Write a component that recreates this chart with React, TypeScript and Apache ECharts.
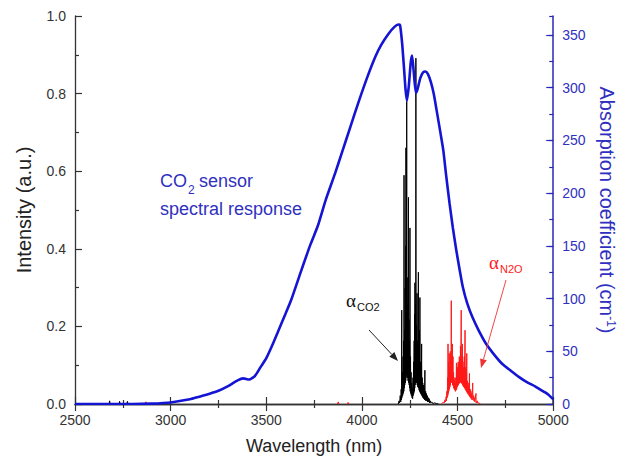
import React, { useEffect, useRef } from "react";
import * as echarts from "echarts";

// ---------- data ----------
const X_MIN = 2500;
const X_MAX = 5000;
const X_INTERVAL = 500;
const LEFT_MAX = 1.0;
const LEFT_INTERVAL = 0.2;
const RIGHT_MAX = 368;
const RIGHT_INTERVAL = 50;

// CO2 sensor spectral response (left axis, intensity a.u.)
const SENSOR_WL = [2500, 2600, 2700, 2800, 2900, 3000, 3100, 3150, 3200, 3250, 3300, 3350, 3380, 3410, 3440, 3470, 3500, 3530, 3560, 3600, 3630, 3680, 3730, 3770, 3810, 3860, 3900, 3940, 3980, 4030, 4070, 4100, 4140, 4170, 4190, 4199, 4210, 4220, 4228, 4235, 4245, 4255, 4262, 4270, 4282, 4290, 4305, 4320, 4332, 4345, 4360, 4375, 4390, 4410, 4425, 4440, 4458, 4475, 4493, 4510, 4527, 4550, 4579, 4610, 4648, 4690, 4734, 4780, 4820, 4860, 4907, 4950, 4975, 5000];
const SENSOR_I = [0, 0, 0, 0, 0.001, 0.004, 0.012, 0.019, 0.026, 0.034, 0.046, 0.061, 0.066, 0.063, 0.072, 0.095, 0.118, 0.15, 0.185, 0.232, 0.268, 0.34, 0.41, 0.46, 0.525, 0.595, 0.655, 0.715, 0.775, 0.845, 0.895, 0.925, 0.955, 0.972, 0.978, 0.977, 0.93, 0.865, 0.81, 0.782, 0.82, 0.88, 0.898, 0.86, 0.802, 0.81, 0.84, 0.855, 0.857, 0.85, 0.83, 0.8, 0.758, 0.7, 0.655, 0.59, 0.517, 0.455, 0.397, 0.348, 0.302, 0.26, 0.222, 0.19, 0.156, 0.128, 0.103, 0.085, 0.07, 0.057, 0.045, 0.032, 0.024, 0.012];

// CO2 absorption coefficient (right axis, cm^-1); null = gap
const CO2_WL = [2678, 2681, 2684, null, 2730, 2733, 2736, null, 2771, 2774, 2777, null,
  4190, 4194, 4197, 4200, 4203, 4205, 4207, 4208, 4209, 4211, 4213, 4215, 4216, 4218, 4219, 4220, 4221, 4223, 4224, 4226, 4227, 4228, 4229, 4230, 4231, 4232, 4233, 4234, 4235, 4237, 4238, 4240, 4241, 4243, 4244, 4246, 4247, 4249, 4250, 4251, 4252, 4254, 4255, 4257, 4258, 4260, 4262, 4264, 4265, 4267, 4268, 4270, 4271, 4273, 4274, 4275, 4276, 4277, 4278, 4280, 4281, 4282, 4283, 4285, 4286, 4288, 4289, 4291, 4292, 4295, 4296, 4298, 4299, 4301, 4302, 4303, 4304, 4306, 4307, 4309, 4310, 4312, 4313, 4315, 4316, 4318, 4319, 4322, 4323, 4326, 4327, 4329, 4330, 4333, 4334, 4337, 4338, 4342, 4343, 4347, 4348, 4352, 4353, 4358, 4360, 4365, 4370, 4380, 4390, 4400];
const CO2_ABS = [0, 3, 0, null, 0, 2.5, 0, null, 0, 2.5, 0, null,
  0, 3, 1, 8, 2, 14, 4, 89, 6, 30, 8, 45, 10, 60, 12, 217, 15, 70, 18, 110, 20, 150, 22, 243, 25, 130, 28, 287, 30, 95, 25, 120, 22, 196, 20, 80, 18, 60, 15, 167, 12, 45, 10, 30, 8, 20, 6, 15, 5, 25, 8, 40, 10, 60, 12, 85, 15, 115, 18, 95, 20, 328, 22, 75, 20, 105, 18, 60, 16, 125, 15, 50, 13, 70, 12, 101, 11, 40, 10, 35, 9, 57, 8, 25, 7, 20, 6, 18, 5, 15, 4, 32, 4, 12, 3, 10, 3, 8, 2, 6, 2, 5, 1, 3, 1, 2, 0.5, 1, 0.5, 0];

// N2O absorption coefficient (right axis, cm^-1); null = gap
const N2O_WL = [2866, 2870, 2874, 2878, null, 3872, 3876, 3880, null, 3924, 3928, 3932, null,
  4415, 4422, 4426, 4430, 4434, 4437, 4440, 4442, 4444, 4446, 4448, 4449, 4450, 4451, 4453, 4454, 4456, 4457, 4459, 4460, 4462, 4463, 4465, 4466, 4467, 4468, 4470, 4471, 4473, 4474, 4476, 4477, 4479, 4480, 4482, 4483, 4485, 4486, 4488, 4489, 4491, 4492, 4494, 4495, 4497, 4498, 4500, 4501, 4503, 4504, 4506, 4507, 4509, 4510, 4512, 4513, 4515, 4516, 4519, 4520, 4522, 4523, 4525, 4526, 4528, 4529, 4531, 4532, 4535, 4536, 4539, 4540, 4542, 4543, 4545, 4546, 4548, 4549, 4551, 4552, 4555, 4556, 4559, 4560, 4562, 4563, 4566, 4567, 4570, 4571, 4574, 4575, 4579, 4580, 4584, 4585, 4589, 4590, 4596, 4597, 4603, 4605, 4612, 4620];
const N2O_ABS = [0, 2, 1.5, 0, null, 0, 2, 0, null, 0, 1.5, 0, null,
  0, 1, 2, 1, 4, 2, 7, 3, 12, 6, 25, 8, 57, 10, 40, 12, 48, 14, 35, 16, 50, 18, 45, 20, 98, 22, 40, 20, 57, 18, 45, 17, 30, 15, 25, 14, 22, 13, 20, 12, 25, 13, 39, 14, 30, 16, 35, 17, 40, 18, 38, 19, 45, 20, 42, 20, 55, 21, 89, 20, 45, 19, 57, 18, 40, 17, 35, 16, 45, 15, 70, 14, 35, 13, 30, 12, 48, 11, 22, 10, 20, 9, 18, 8, 29, 7, 14, 6, 12, 5, 10, 4, 20, 4, 8, 3, 6, 2, 10, 1, 3, 1, 1, 0];

const pairs = (xs: (number | null)[], ys: (number | null)[]) =>
  xs.map((x, i) => (x === null || ys[i] === null ? ["-", "-"] : [x, ys[i]]));

const AXIS_GRAY = "#333333";
const BLUE = "#1414d4";
const BLUE_TEXT = "#3030c0";
const RED = "#ff1a1a";
const FONT = "'Liberation Sans', Arial, sans-serif";
const SERIF = "'Liberation Serif', 'Times New Roman', serif";

function arrow(x1: number, y1: number, x2: number, y2: number, color: string, width: number) {
  const ang = Math.atan2(y2 - y1, x2 - x1);
  const L = 9;
  const W = 3.5;
  const bx = x2 - L * Math.cos(ang);
  const by = y2 - L * Math.sin(ang);
  const px = -Math.sin(ang) * W;
  const py = Math.cos(ang) * W;
  return [
    { type: "line", shape: { x1, y1, x2: bx, y2: by }, style: { stroke: color, lineWidth: width }, z: 100 },
    {
      type: "polygon",
      shape: { points: [[x2, y2], [bx + px, by + py], [bx - px, by - py]] },
      style: { fill: color },
      z: 100,
    },
  ];
}

export default function App() {
  const ref = useRef<HTMLDivElement>(null);
  useEffect(() => {
    if (!ref.current) return;
    const chart = echarts.init(ref.current, undefined, { renderer: "svg" });
    const tickStyle = { color: AXIS_GRAY, width: 1.2 };
    const option: any = {
      animation: false,
      backgroundColor: "#ffffff",
      grid: { left: 75, right: 68, top: 16, bottom: 67 },
      xAxis: [
        {
          type: "value",
          position: "bottom",
          min: X_MIN,
          max: X_MAX,
          interval: X_INTERVAL,
          axisLine: { show: true, lineStyle: { color: AXIS_GRAY, width: 1.3 } },
          axisTick: { show: true, inside: true, length: 7, lineStyle: tickStyle },
          minorTick: { show: true, splitNumber: 2, length: 4, lineStyle: tickStyle },
          splitLine: { show: false },
          minorSplitLine: { show: false },
          axisLabel: { fontSize: 14, color: AXIS_GRAY, fontFamily: FONT, margin: 9, formatter: (v: number) => String(v) },
          name: "Wavelength (nm)",
          nameLocation: "middle",
          nameGap: 33,
          nameTextStyle: { fontSize: 18, color: "#222", fontFamily: FONT },
        },
        {
          type: "value",
          position: "top",
          min: X_MIN,
          max: X_MAX,
          interval: X_INTERVAL,
          axisLine: { show: true, lineStyle: { color: AXIS_GRAY, width: 1.3 } },
          axisTick: { show: true, inside: true, length: 7, lineStyle: tickStyle },
          minorTick: { show: true, splitNumber: 2, length: 4, lineStyle: tickStyle },
          splitLine: { show: false },
          axisLabel: { show: false },
        },
      ],
      yAxis: [
        {
          type: "value",
          position: "left",
          min: 0,
          max: LEFT_MAX,
          interval: LEFT_INTERVAL,
          axisLine: { show: true, lineStyle: { color: AXIS_GRAY, width: 1.3 } },
          axisTick: { show: true, inside: true, length: 7, lineStyle: tickStyle },
          minorTick: { show: true, splitNumber: 2, length: 4, lineStyle: tickStyle },
          splitLine: { show: false },
          minorSplitLine: { show: false },
          axisLabel: {
            fontSize: 14,
            color: AXIS_GRAY,
            fontFamily: FONT,
            margin: 9,
            formatter: (v: number) => v.toFixed(1),
          },
          name: "Intensity (a.u.)",
          nameLocation: "middle",
          nameRotate: 90,
          nameGap: 41,
          nameTextStyle: { fontSize: 20, color: "#222", fontFamily: FONT },
        },
        {
          type: "value",
          position: "right",
          min: 0,
          max: RIGHT_MAX,
          interval: RIGHT_INTERVAL,
          axisLine: { show: true, lineStyle: { color: "#2828b8", width: 1.5 } },
          axisTick: { show: true, inside: true, length: 7, lineStyle: { color: "#2828b8", width: 1.2 } },
          splitLine: { show: false },
          axisLabel: {
            fontSize: 14,
            color: BLUE_TEXT,
            fontFamily: FONT,
            margin: 9,
            showMaxLabel: false,
            formatter: (v: number) => (Math.abs(v % RIGHT_INTERVAL) < 1e-6 ? String(v) : ""),
          },
          name: "Absorption coefficient (cm{sup|-1}{par|)}",
          nameLocation: "middle",
          nameRotate: -90,
          nameGap: 39,
          nameTextStyle: {
            fontSize: 20,
            color: BLUE_TEXT,
            fontFamily: FONT,
            rich: {
              sup: { fontSize: 12, color: BLUE_TEXT, fontFamily: FONT, verticalAlign: "top", padding: [0, 0, 9, 0] },
              par: { fontSize: 20, color: BLUE_TEXT, fontFamily: FONT },
            },
          },
        },
        {
          type: "value",
          position: "right",
          min: 0,
          max: RIGHT_MAX,
          interval: RIGHT_INTERVAL / 2,
          axisLine: { show: false },
          axisTick: { show: true, inside: true, length: 4, lineStyle: { color: "#2828b8", width: 1.2 } },
          splitLine: { show: false },
          axisLabel: { show: false },
        },
      ],
      series: [
        {
          name: "N2O",
          type: "line",
          xAxisIndex: 0,
          yAxisIndex: 1,
          data: pairs(N2O_WL, N2O_ABS),
          showSymbol: false,
          symbol: "none",
          connectNulls: false,
          lineStyle: { color: RED, width: 1 },
          z: 2,
        },
        {
          name: "CO2",
          type: "line",
          xAxisIndex: 0,
          yAxisIndex: 1,
          data: pairs(CO2_WL, CO2_ABS),
          showSymbol: false,
          symbol: "none",
          connectNulls: false,
          lineStyle: { color: "#000000", width: 1 },
          z: 3,
        },
        {
          name: "Sensor",
          type: "line",
          xAxisIndex: 0,
          yAxisIndex: 0,
          data: pairs(SENSOR_WL, SENSOR_I),
          showSymbol: false,
          symbol: "none",
          smooth: 0.2,
          lineStyle: { color: BLUE, width: 2.6 },
          z: 5,
        },
      ],
      graphic: [
        { type: "text", x: 160, y: 181, style: { text: "CO", font: `18px ${FONT}`, fill: BLUE_TEXT, textVerticalAlign: "middle" }, z: 100 },
        { type: "text", x: 188, y: 190, style: { text: "2", font: `12px ${FONT}`, fill: BLUE_TEXT, textVerticalAlign: "middle" }, z: 100 },
        { type: "text", x: 199, y: 181, style: { text: "sensor", font: `18px ${FONT}`, fill: BLUE_TEXT, textVerticalAlign: "middle" }, z: 100 },
        { type: "text", x: 160, y: 209, style: { text: "spectral response", font: `18px ${FONT}`, fill: BLUE_TEXT, textVerticalAlign: "middle" }, z: 100 },
        { type: "text", x: 346, y: 300, style: { text: "α", font: `19px ${SERIF}`, fill: "#111", textVerticalAlign: "middle" }, z: 100 },
        { type: "text", x: 357, y: 307, style: { text: "CO2", font: `11px ${FONT}`, fill: "#111", textVerticalAlign: "middle" }, z: 100 },
        { type: "text", x: 489, y: 262, style: { text: "α", font: `19px ${SERIF}`, fill: RED, textVerticalAlign: "middle" }, z: 100 },
        { type: "text", x: 500, y: 269, style: { text: "N2O", font: `11px ${FONT}`, fill: RED, textVerticalAlign: "middle" }, z: 100 },
        ...arrow(369, 330, 398, 361, "#222", 1),
        ...arrow(506, 280, 481, 368, "#e33", 0.9),
      ],
    };
    chart.setOption(option);
    return () => chart.dispose();
  }, []);
  return <div ref={ref} style={{ position: "absolute", left: 0, top: 0, width: 625, height: 471 }} />;
}
